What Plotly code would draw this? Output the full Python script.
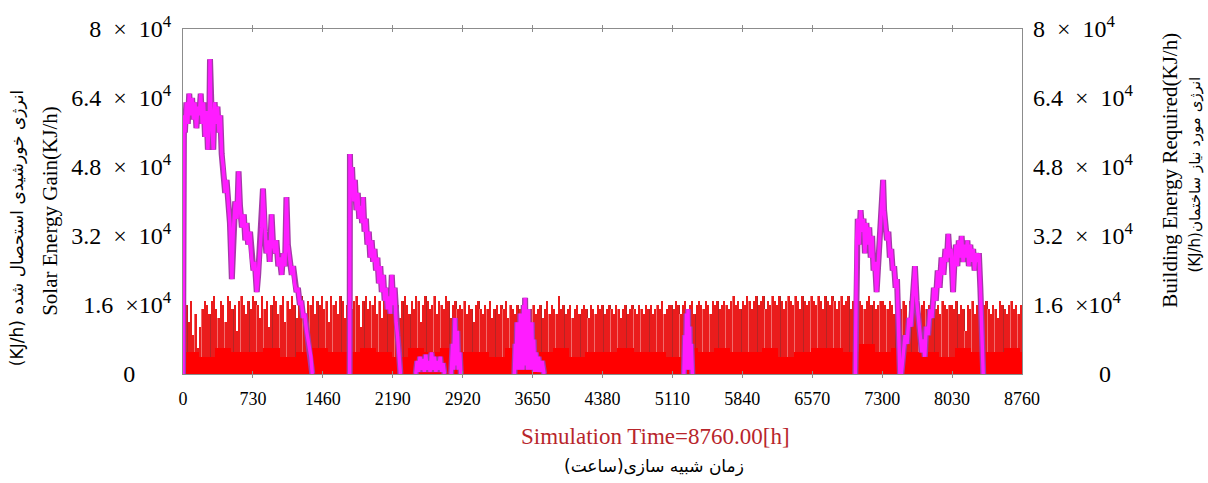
import plotly.graph_objects as go

# ---------------- data (y in units of 10^3 kJ/h) ----------------
x_ticks = [0, 730, 1460, 2190, 2920, 3650, 4380, 5110, 5840, 6570, 7300, 8030, 8760]
y_ticks = [0, 16, 32, 48, 64, 80]
sp = "\u2002"
y_left_text = ["0" + "\u00a0" * 6, "1.6" + sp + "×10<sup>4</sup>", "3.2" + sp + "×" + sp + "10<sup>4</sup>",
               "4.8" + sp + "×" + sp + "10<sup>4</sup>", "6.4" + sp + "×" + sp + "10<sup>4</sup>",
               "8" + sp + "×" + sp + "10<sup>4</sup>"]
y_right_text = ["\u00a0" * 11 + "0", "1.6" + sp + "×10<sup>4</sup>", "3.2" + sp + "×" + sp + "10<sup>4</sup>",
                "4.8" + sp + "×" + sp + "10<sup>4</sup>", "6.4" + sp + "×" + sp + "10<sup>4</sup>",
                "8" + sp + "×" + sp + "10<sup>4</sup>"]

# daily peak of solar energy gain (10^3 kJ/h), one value per day, by month
jan = [15,16,12,17,9,14,6,11,15,17,16,14,17,18,15,13,17,16,12,18,17,15,16,10,17,18,16,14,17,15,18]
feb = [17,16,13,18,15,17,11,16,18,17,14,16,18,12,17,15,18,16,13,17,18,15,12,17,16,18,14,17]
mar = [16,18,15,17,12,18,16,17,14,18,17,13,16,18,15,17,18,16,11,17,18,15,17,16,18,14,17,13,18,16,17]
apr = [17,15,18,16,13,17,18,16,14,17,15,18,17,12,16,18,17,15,16,18,14,17,16,15,18,17,13,16,17,15]
may = [16,15,17,14,16,15,12,16,17,15,14,16,15,17,13,15,16,14,16,15,17,13,16,15,14,16,15,12,16,15,14]
jun = [15,16,14,15,16,13,15,17,14,16,15,14,18,15,16,14,15,16,13,15,16,14,15,16,15,13,16,15,14,16]
jul = [15,16,14,15,16,15,14,16,15,13,15,16,14,15,16,15,14,16,15,14,16,15,16,14,15,16,15,17,14,15,16]
aug = [16,15,17,16,14,16,17,15,16,17,14,16,17,16,15,17,16,14,17,16,17,15,16,17,16,15,17,18,16,17,15]
sep = [17,16,18,17,15,17,18,16,17,18,15,17,16,18,17,16,18,17,15,17,18,17,16,18,17,15,18,17,16,17]
octo = [18,17,16,18,17,15,18,17,16,18,17,15,17,18,16,17,18,15,17,16,18,17,16,15,17,18,16,17,15,16,17]
nov = [17,16,15,17,16,14,17,16,15,17,16,13,17,16,15,17,14,16,17,15,16,12,17,15,16,14,17,16,15,16]
dec = [16,15,17,14,16,15,10,16,15,17,14,16,15,12,16,17,15,14,16,15,13,17,16,15,14,16,17,15,16,14,16]
# level (10^3 kJ/h) below which the solar gain band is solid, per week
week_base = [5,4,6,5,5,6,4,5,6,5,5,6,5,4,6,5,6,5,5,4,6,5,5,6,4,5,5,
             6,5,5,4,6,5,6,5,5,6,4,5,6,6,5,7,5,6,5,5,4,6,5,5,6,5]

# building energy required (hour, 10^3 kJ/h) for the heating periods
seg_a = [(0,0),(1,50),(10,60),(20,56),(35,63),(50,58),(65,65),(80,60),(95,64),(110,59),(125,63),
         (140,57),(155,62),(170,60),(185,65),(200,58),(215,63),(230,55),(245,61),(260,52),(275,60),
         (282,73),(290,62),(305,56),(316,52),(330,63),(345,58),(360,62),(375,56),(390,60),(404,51),
         (420,48),(440,42),(455,45),(475,38),(490,35),(510,22),(525,33),(545,40),(565,36),(580,47),
         (595,39),(615,34),(635,37),(650,31),(665,35),(680,30),(700,33),(715,27),(735,24),(750,26),
         (770,19),(785,23),(800,28),(820,34),(835,43),(855,33),(870,28),(890,31),(905,26),(925,37),
         (940,30),(960,28),(975,31),(995,25),(1010,27),(1030,23),(1045,28),(1065,25),(1080,41),
         (1095,30),(1115,26),(1135,23),(1150,25),(1165,21),(1185,19),(1200,20),(1220,16),(1235,17),
         (1255,13),(1270,14),(1290,10),(1305,8),(1320,6),(1335,4),(1350,0)]
seg_b = [(1740,0),(1743,51),(1750,44),(1765,48),(1780,40),(1795,45),(1810,38),(1825,42),(1840,36),
         (1855,39),(1870,35),(1880,41),(1895,33),(1910,36),(1925,30),(1940,33),(1955,27),(1970,31),
         (1985,26),(2000,29),(2015,24),(2030,27),(2045,21),(2060,25),(2075,19),(2090,23),(2105,17),
         (2120,20),(2135,15),(2150,18),(2165,14),(2180,23),(2195,16),(2210,20),(2225,12),(2240,9),
         (2255,5),(2270,0)]
seg_c = [(2430,0),(2445,3),(2460,0.5),(2475,4),(2490,1),(2505,3.5),(2520,0.5),(2535,4.5),(2550,1),
         (2565,3),(2580,0.5),(2595,5),(2610,1),(2625,4),(2640,0.5),(2655,3),(2670,1),(2685,4),
         (2700,0.5),(2715,2.5),(2730,0)]
seg_c2 = [(2800,0),(2815,7),(2825,1),(2840,13),(2850,2),(2865,10),(2875,1),(2890,5),(2900,0)]
seg_d = [(3460,0),(3470,7),(3478,1),(3488,12),(3496,2),(3505,9),(3513,1),(3522,14),(3530,2),
         (3540,11),(3548,1),(3557,16),(3565,3),(3572,17.7),(3580,2),(3590,13),(3598,1),(3607,15),
         (3615,2),(3625,10),(3633,1),(3642,12),(3650,1),(3662,8),(3672,0.5),(3685,5),(3698,0.5),
         (3712,4),(3730,0.5),(3750,3),(3770,0)]
seg_e = [(5230,0),(5240,9),(5248,1),(5257,14),(5265,2),(5273,15),(5281,1),(5290,11),(5298,1),
         (5307,7),(5318,0)]
seg_f1 = [(7020,0),(7033,31),(7045,36),(7060,30),(7075,38),(7090,33),(7105,36),(7120,28),(7135,35),
          (7150,30),(7165,34),(7180,27),(7195,32),(7210,24),(7225,26),(7242,19),(7255,24),(7270,30),
          (7285,36),(7300,40),(7310,45),(7320,38),(7335,35),(7350,31),(7365,33),(7380,27),(7395,29),
          (7410,24),(7425,25),(7440,20),(7455,22),(7470,12),(7485,0)]
seg_f2 = [(7500,0),(7520,5),(7540,9),(7560,7),(7580,13),(7600,11),(7620,18),(7642,25),(7660,17),
          (7680,12),(7700,9),(7715,5),(7728,8),(7745,4),(7760,11),(7780,9),(7800,15),(7820,13),
          (7840,20),(7860,17),(7880,24),(7900,20),(7920,27),(7940,23),(7960,29),(7975,26),(7990,32.5),
          (8005,27),(8020,29),(8040,19),(8055,26),(8070,30),(8085,25),(8100,31),(8115,27),(8130,32),
          (8145,26),(8160,30),(8175,27),(8190,31),(8205,25),(8220,30),(8235,26),(8250,29),(8265,24),
          (8280,28),(8295,26),(8310,28),(8325,20),(8340,10),(8355,0)]

# ---------------- build traces ----------------
months = [jan, feb, mar, apr, may, jun, jul, aug, sep, octo, nov, dec]
daily_peaks = [v for days in months for v in days]
daily_base = [week_base[d // 7] for d in range(len(daily_peaks))]
day_x = [24 * d + 12 for d in range(len(daily_peaks))]

mag_x, mag_y = [], []
for seg in [seg_a, seg_b, seg_c, seg_c2, seg_d, seg_e, seg_f1, seg_f2]:
    mag_x += [h for h, _ in seg] + [None]
    mag_y += [v for _, v in seg] + [None]

serif = "Liberation Serif"
persian = "DejaVu Sans"

fig = go.Figure()
fig.add_trace(go.Bar(x=day_x, y=daily_peaks, width=24, marker=dict(color="#b52424", line=dict(width=0)),
                     yaxis="y", hoverinfo="skip", showlegend=False))
fig.add_trace(go.Bar(x=day_x, y=daily_peaks, width=15, marker=dict(color="#f26c6c", line=dict(width=0)),
                     yaxis="y", hoverinfo="skip", showlegend=False))
fig.add_trace(go.Bar(x=day_x, y=daily_peaks, width=11, marker=dict(color="#ea1c1c", line=dict(width=0)),
                     yaxis="y", hoverinfo="skip", showlegend=False))
fig.add_trace(go.Bar(x=day_x, y=daily_base, width=24, marker=dict(color="#ff0000", line=dict(width=0)),
                     yaxis="y", hoverinfo="skip", showlegend=False))
fig.add_trace(go.Scatter(x=mag_x, y=mag_y, mode="lines",
                         line=dict(color="#a43aa8", width=6),
                         yaxis="y2", hoverinfo="skip", showlegend=False))
fig.add_trace(go.Scatter(x=mag_x, y=mag_y, mode="lines",
                         line=dict(color="#ff1cff", width=3.4),
                         yaxis="y2", hoverinfo="skip", showlegend=False))

axis_common = dict(showgrid=False, zeroline=False)
ann_common = dict(xref="paper", yref="paper", showarrow=False, xanchor="center", yanchor="middle")
fig.update_layout(
    width=1208, height=483,
    margin=dict(l=183, r=186, t=21, b=109),
    paper_bgcolor="white", plot_bgcolor="white",
    barmode="overlay", bargap=0,
    xaxis=dict(range=[0, 8760], tickvals=x_ticks, ticktext=[str(t) for t in x_ticks],
               tickfont=dict(family=serif, size=18, color="black"),
               showline=True, linecolor="#8c8c8c", linewidth=1, mirror="allticks",
               ticks="inside", ticklen=3, tickcolor="#8c8c8c", ticklabelstandoff=8,
               **axis_common),
    yaxis=dict(range=[0, 80], tickvals=y_ticks, ticktext=y_left_text,
               tickfont=dict(family=serif, size=24, color="black"),
               showline=True, linecolor="#8c8c8c", linewidth=1, mirror=True,
               ticks="", ticklabelstandoff=6, **axis_common),
    yaxis2=dict(range=[0, 80], tickvals=y_ticks, ticktext=y_right_text, overlaying="y",
                side="right", tickfont=dict(family=serif, size=24, color="black"),
                showline=False, ticks="", ticklabelstandoff=10, **axis_common),
    annotations=[
        dict(text="Solar Energy Gain(KJ/h)", x=-0.1585, y=0.473, textangle=-90,
             font=dict(family=serif, size=21, color="black"), **ann_common),
        dict(text="(KJ/h) انرژی خورشیدی استحصال شده", x=-0.197, y=0.422, textangle=-90,
             font=dict(family=persian, size=17, color="black"), **ann_common),
        dict(text="Building Energy Required(KJ/h)", x=1.1764, y=0.592, textangle=-90,
             font=dict(family=serif, size=21, color="black"), **ann_common),
        dict(text="(KJ/h)انرژی مورد نیاز ساختمان", x=1.2062, y=0.578, textangle=-90,
             font=dict(family=persian, size=15, color="black"), **ann_common),
        dict(text="Simulation Time=8760.00[h]", x=0.5626, y=-0.181,
             font=dict(family=serif, size=23, color="#b8252b"), **ann_common),
        dict(text="زمان شبیه سازی(ساعت)", x=0.5615, y=-0.266,
             font=dict(family=persian, size=17, color="black"), **ann_common),
    ],
)

fig.write_html("out.html")
